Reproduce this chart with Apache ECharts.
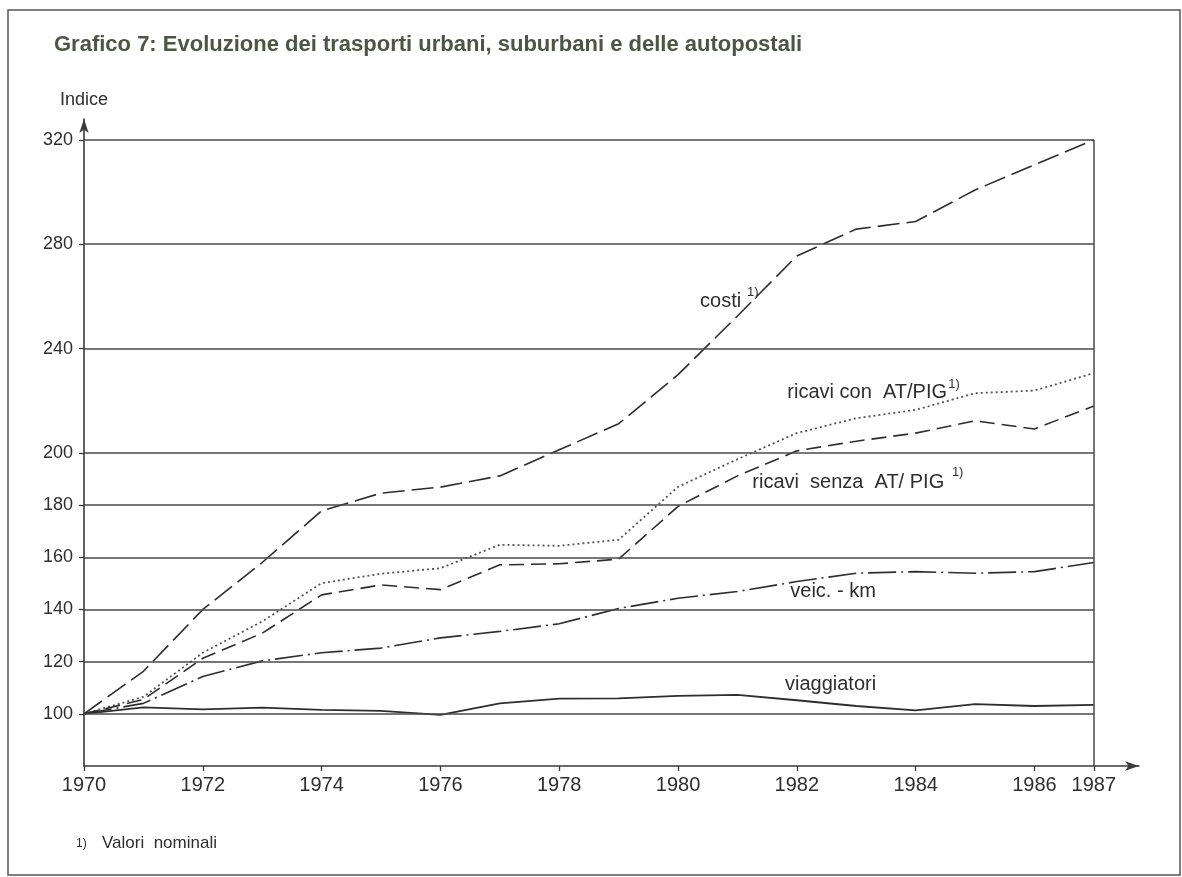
<!DOCTYPE html>
<html>
<head>
<meta charset="utf-8">
<script src="https://cdn.jsdelivr.net/npm/echarts@6/dist/echarts.min.js"></script>
<style>
html,body{margin:0;padding:0;background:#fff;}
#chart{width:1182px;height:877px;}
</style>
</head>
<body>
<div id="chart"></div>
<script>
// ---- data ----
const years = [1970,1971,1972,1973,1974,1975,1976,1977,1978,1979,1980,1981,1982,1983,1984,1985,1986,1987];
const costi = [100,116.3,140,158,177.8,184.6,186.9,191.2,201.2,211.2,230,252.5,275.5,285.8,288.7,300.8,310.4,320];
const ricaviCon = [100,106.5,123.4,135.4,150.1,153.7,155.8,164.8,164.4,166.7,187,197.6,207.6,213.3,216.5,222.9,223.9,230.6];
const ricaviSenza = [100,105.5,121.3,130.9,145.6,149.4,147.6,157.1,157.5,159.3,179.5,191.2,200.8,204.5,207.6,212.3,209.2,218];
const veicKm = [100,104,114.3,120.3,123.4,125.2,129.1,131.6,134.5,140.4,144.3,146.9,150.7,153.9,154.5,153.9,154.5,158];
const viaggiatori = [100,102.5,101.7,102.4,101.5,101.1,99.6,104,105.8,105.9,106.9,107.3,105.2,103,101.3,103.7,103,103.4];

const yTicks = [100,120,140,160,180,200,240,280,320];
const xTicks = [1970,1972,1974,1976,1978,1980,1982,1984,1986,1987];

// series annotations: [text, year, value, fontSize]
const annotations = [
  ['costi', 1980.37, 257.9, 20],
  ['1)', 1981.16, 261.7, 13],
  ['ricavi con  AT/PIG', 1981.84, 223.0, 20],
  ['1)', 1984.55, 226.1, 13],
  ['ricavi  senza  AT/ PIG', 1981.25, 188.5, 20],
  ['1)', 1984.61, 192.4, 13],
  ['veic. - km', 1981.89, 146.8, 20],
  ['viaggiatori', 1981.80, 111.1, 20]
];

const titleText = 'Grafico 7: Evoluzione dei trasporti urbani, suburbani e delle autopostali';
const footText = 'Valori  nominali';

// ---- chart ----
const pair = arr => years.map((y, i) => [y, arr[i]]);
const FONT = '"Liberation Sans", Arial, sans-serif';
const INK = '#2e2e2e';

const gridLines = yTicks.map(v => [{coord: [1970, v]}, {coord: [1987, v]}]);
gridLines.push([{coord: [1987, 80]}, {coord: [1987, 320]}]);

function lineSeries(name, arr, dash, color, width) {
  return {
    name, type: 'line', data: pair(arr), symbol: 'none', silent: true,
    lineStyle: {color: color || INK, width: width || 1.6, type: dash},
    z: 3
  };
}

const chart = echarts.init(document.getElementById('chart'), null, {renderer: 'canvas'});
chart.setOption({
  animation: false,
  backgroundColor: '#fff',
  title: {
    text: titleText, left: 49, top: 29,
    textStyle: {fontFamily: FONT, fontSize: 22, fontWeight: 'bold', color: '#4a5742'}
  },
  grid: {left: 84, right: 43, top: 119, bottom: 111, containLabel: false},
  xAxis: {
    type: 'value', min: 1970, max: 1987.76, interval: 1,
    axisLine: {show: true, symbol: ['none', 'arrow'], symbolSize: [7, 14], lineStyle: {color: '#3a3a3a', width: 1.6}},
    axisTick: {show: true, length: 5, inside: false, customValues: xTicks, lineStyle: {color: '#3a3a3a', width: 1.3}},
    axisLabel: {
      show: true, customValues: xTicks, margin: 9,
      fontFamily: FONT, fontSize: 20, color: INK,
      formatter: v => (xTicks.indexOf(v) >= 0 ? String(v) : '')
    },
    splitLine: {show: false}
  },
  yAxis: {
    type: 'value', min: 80, max: 328, interval: 20,
    name: 'Indice', nameLocation: 'end', nameGap: 19,
    nameTextStyle: {fontFamily: FONT, fontSize: 18, color: INK, align: 'center', verticalAlign: 'middle'},
    axisLine: {show: true, symbol: ['none', 'arrow'], symbolSize: [7, 14], lineStyle: {color: '#3a3a3a', width: 1.6}},
    axisTick: {show: true, length: 5, customValues: yTicks, lineStyle: {color: '#3a3a3a', width: 1.3}},
    axisLabel: {
      show: true, customValues: yTicks, margin: 11,
      fontFamily: FONT, fontSize: 18, color: INK,
      formatter: v => (yTicks.indexOf(v) >= 0 ? String(v) : '')
    },
    splitLine: {show: false}
  },
  series: [
    {
      name: 'grid', type: 'line', data: [], silent: true,
      markLine: {
        silent: true, symbol: ['none', 'none'], animation: false,
        label: {show: false},
        lineStyle: {color: '#4a4a4a', width: 1.5, type: 'solid'},
        emphasis: {disabled: true},
        data: gridLines
      },
      markPoint: {
        silent: true, symbol: 'circle', symbolSize: 0, animation: false,
        itemStyle: {color: 'rgba(0,0,0,0)'},
        data: annotations.map(a => ({
          coord: [a[1], a[2]],
          label: {
            show: true, position: [0, 0], align: 'left', verticalAlign: 'middle',
            formatter: a[0], fontFamily: FONT, fontSize: a[3], color: INK
          }
        }))
      },
      z: 2
    },
    lineSeries('costi', costi, [22, 7]),
    lineSeries('ricavi con AT/PIG', ricaviCon, [2, 3], '#555', 1.8),
    lineSeries('ricavi senza AT/PIG', ricaviSenza, [15, 7]),
    lineSeries('veic.-km', veicKm, [28, 5, 2, 5]),
    lineSeries('viaggiatori', viaggiatori, 'solid', INK, 1.8)
  ],
  graphic: [
    {type: 'rect', shape: {x: 8, y: 10, width: 1172, height: 865},
     style: {fill: 'none', stroke: '#555', lineWidth: 1.5}, silent: true, z: -1},
    {type: 'text', left: 76, top: 838, style: {text: '1)', fontFamily: FONT, fontSize: 12, fill: INK}},
    {type: 'text', left: 102, top: 835, style: {text: footText, fontFamily: FONT, fontSize: 17, fill: INK}}
  ]
});
</script>
</body>
</html>
